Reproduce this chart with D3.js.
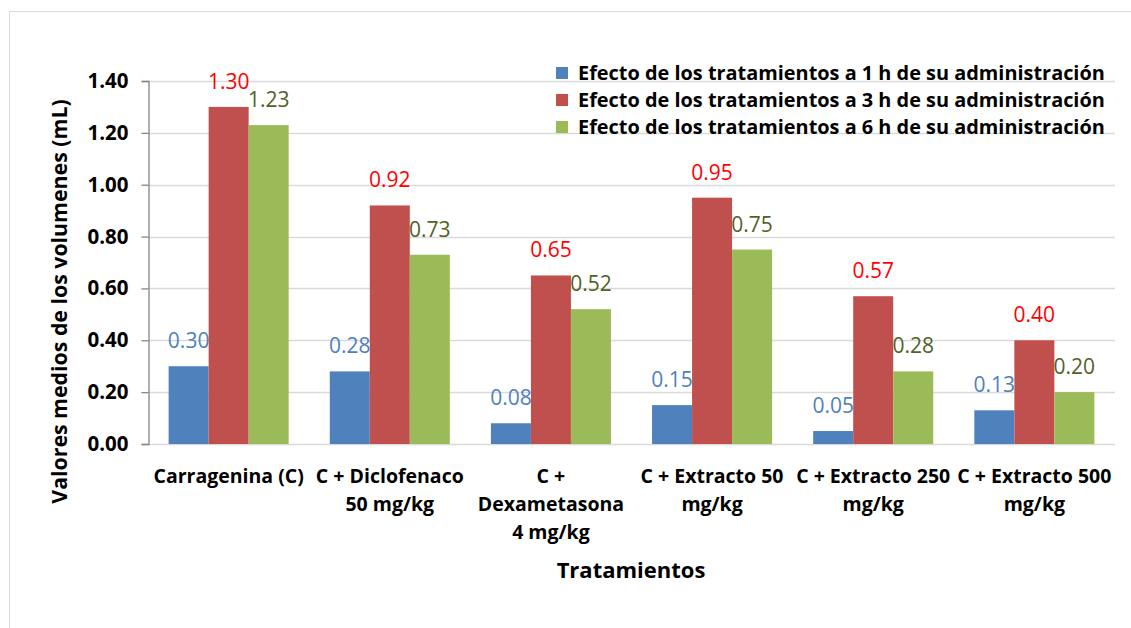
<!DOCTYPE html>
<html><head><meta charset="utf-8">
<script src="https://cdn.jsdelivr.net/npm/d3@7"></script>
<style>body{margin:0;background:#fff}svg{display:block}text{font-family:"Open Sans",sans-serif}</style>
</head><body><svg id="c" width="1131" height="628"></svg>
<script>
const categories = ["Carragenina (C)", "C + Diclofenaco\n50 mg/kg", "C +\nDexametasona\n4 mg/kg", "C + Extracto 50\nmg/kg", "C + Extracto 250\nmg/kg", "C + Extracto 500\nmg/kg"];
const seriesNames = ["Efecto de los tratamientos a 1 h de su administración", "Efecto de los tratamientos a 3 h de su administración", "Efecto de los tratamientos a 6 h de su administración"];
const values1h = [0.30, 0.28, 0.08, 0.15, 0.05, 0.13];
const values3h = [1.30, 0.92, 0.65, 0.95, 0.57, 0.40];
const values6h = [1.23, 0.73, 0.52, 0.75, 0.28, 0.20];
const yTicks = [0, 0.2, 0.4, 0.6, 0.8, 1.0, 1.2, 1.4];
const yTitle = "Valores medios de los volumenes (mL)";
const xTitle = "Tratamientos";

const series = [values1h, values3h, values6h];
const barColors = ["#4F81BD", "#C0504D", "#9BBB59"];
const labelColors = ["#4F81BD", "#FF0000", "#4F6228"];

const svg = d3.select("#c");
const L = 148, R = 1115, T = 81, B = 444;
svg.append("rect").attr("x", 9.5).attr("y", 11.5).attr("width", 1140).attr("height", 640)
  .attr("fill", "none").attr("stroke", "#D9D9D9");

const y = d3.scaleLinear().domain([0, 1.4]).range([B, T]);
const x0 = d3.scaleBand().domain(d3.range(categories.length)).range([L, R]).paddingInner(0.255).paddingOuter(0.128);
const x1 = d3.scaleBand().domain([0, 1, 2]).range([0, x0.bandwidth()]);

// gridlines
svg.append("g").selectAll("line").data(yTicks).join("line")
  .attr("x1", L).attr("x2", R).attr("y1", d => Math.round(y(d)) + 0.5).attr("y2", d => Math.round(y(d)) + 0.5)
  .attr("stroke", "#D9D9D9").attr("stroke-width", 1.3);

// bars
const g = svg.append("g");
series.forEach((vals, si) => {
  g.selectAll(null).data(vals).join("rect")
    .attr("x", (d, i) => x0(i) + x1(si)).attr("width", x1.bandwidth())
    .attr("y", d => y(d)).attr("height", d => B - y(d)).attr("fill", barColors[si]);
  g.selectAll(null).data(vals).join("text")
    .attr("x", (d, i) => x0(i) + x1(si) + x1.bandwidth() / 2)
    .attr("y", d => y(d) - 18).attr("text-anchor", "middle")
    .attr("font-size", 21).attr("fill", labelColors[si]).text(d => d.toFixed(2));
});

// y axis
const yAxis = d3.axisLeft(y).tickValues(yTicks).tickFormat(d3.format(".2f")).tickSize(7).tickPadding(13);
const ya = svg.append("g").attr("transform", `translate(${L + 0.5},0)`).call(yAxis);
ya.select(".domain").attr("stroke", "#868686").attr("stroke-width", 1.3);
ya.selectAll(".tick line").attr("stroke", "#868686").attr("stroke-width", 1.3);
ya.selectAll(".tick text").attr("font-size", 20.5).attr("font-weight", "bold").attr("fill", "#000")
  .style("font-family", "Open Sans");

// x labels
const xl = svg.append("g");
categories.forEach((c, i) => {
  const t = xl.append("text").attr("text-anchor", "middle").attr("font-size", 19.5).attr("font-weight", "bold")
    .attr("fill", "#000");
  c.split("\n").forEach((ln, k) => {
    t.append("tspan").attr("x", x0(i) + x0.bandwidth() / 2).attr("y", 483 + k * 28).text(ln);
  });
});

// titles
svg.append("text").attr("x", 631).attr("y", 578).attr("text-anchor", "middle")
  .attr("font-size", 22).attr("font-weight", "bold").text(xTitle);
svg.append("text").attr("transform", `translate(67,301.5) rotate(-90)`).attr("text-anchor", "middle")
  .attr("font-size", 21.3).attr("font-weight", "bold").text(yTitle);

// legend
const lg = svg.append("g");
seriesNames.forEach((n, i) => {
  const cy = 73 + i * 27;
  lg.append("rect").attr("x", 556).attr("y", cy - 6).attr("width", 12).attr("height", 12).attr("fill", barColors[i]);
  lg.append("text").attr("x", 578).attr("y", cy + 7).attr("font-size", 19.9).attr("font-weight", "bold").text(n);
});
</script></body></html>
